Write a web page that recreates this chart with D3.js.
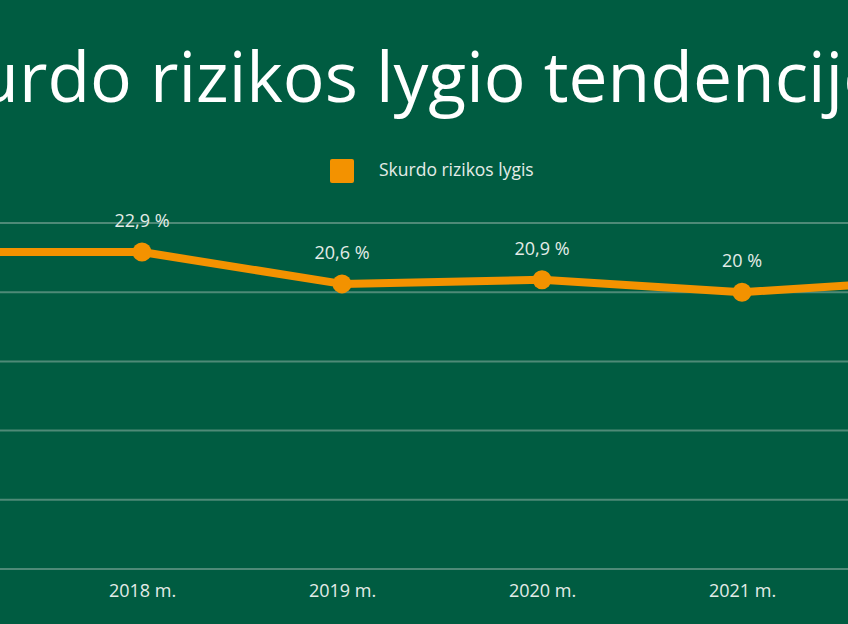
<!DOCTYPE html>
<html>
<head>
<meta charset="utf-8">
<script src="https://cdn.jsdelivr.net/npm/d3@7"></script>
<style>
  html, body { margin: 0; padding: 0; background: #005c41; overflow: hidden; }
  svg { display: block; }
</style>
</head>
<body>
<div class="graph"></div>
<script>
"use strict";

var title = "Skurdo rizikos lygio tendencijos";
var seriesName = "Skurdo rizikos lygis";
var years = ["2017 m.", "2018 m.", "2019 m.", "2020 m.", "2021 m.", "2022 m."];
var values = [22.9, 22.9, 20.6, 20.9, 20.0, 20.9];
var yTicks = [0, 5, 10, 15, 20, 25];

var width = 848;
var height = 624;
var orange = "#f39200";
var textColor = "#e4ece8";
var gridColor = "#4e8a77";
var font = "'Open Sans', sans-serif";

var svg = d3.select(".graph").append("svg")
    .attr("width", width)
    .attr("height", height);

svg.append("rect").attr("width", width).attr("height", height).attr("fill", "#005c41");

// the chart is wider than the window: first and last years fall outside
var xScale = d3.scalePoint().domain(years).range([-58, 942]);
var yScale = d3.scaleLinear().domain([0, 25]).range([569, 223]);

// title runs past both edges; fit it so "r" of "Skurdo" and the "i" before "jos" land where they should
var titleText = svg.append("text")
    .attr("x", 0)
    .attr("y", 102)
    .attr("fill", "#ffffff")
    .style("font-family", font)
    .style("font-size", "73px")
    .text(title);
var titleNode = titleText.node();
var rPos = titleNode.getStartPositionOfChar(3).x;
var iPos = titleNode.getStartPositionOfChar(title.lastIndexOf("i")).x;
var k = 789 / (iPos - rPos);
titleText.style("font-size", (73 * k) + "px")
    .attr("x", 19 - rPos * k);

// legend
svg.append("rect")
    .attr("x", 330).attr("y", 159)
    .attr("width", 24).attr("height", 24)
    .attr("rx", 2)
    .attr("fill", orange);
svg.append("text")
    .attr("x", 379).attr("y", 176)
    .attr("fill", textColor)
    .style("font-family", font)
    .style("font-size", "17.5px")
    .text(seriesName);

// grid
svg.append("g").selectAll("line").data(yTicks).enter().append("line")
    .attr("x1", 0).attr("x2", width)
    .attr("y1", function (d) { return yScale(d); })
    .attr("y2", function (d) { return yScale(d); })
    .attr("stroke", gridColor)
    .attr("stroke-width", 2);

// x axis labels
var xAxis = d3.axisBottom(xScale).tickSize(0).tickPadding(15);
var axisG = svg.append("g").attr("transform", "translate(0," + yScale(0) + ")").call(xAxis);
axisG.select(".domain").remove();
axisG.selectAll("text")
    .attr("fill", textColor)
    .style("font-family", font)
    .style("font-size", "18px");

var points = years.map(function (y, i) { return { year: y, value: values[i] }; });

var line = d3.line()
    .x(function (d) { return xScale(d.year); })
    .y(function (d) { return yScale(d.value); });

svg.append("path")
    .datum(points)
    .attr("d", line)
    .attr("fill", "none")
    .attr("stroke", orange)
    .attr("stroke-width", 8)
    .attr("stroke-linejoin", "round");

svg.selectAll("circle.pt").data(points).enter().append("circle")
    .attr("class", "pt")
    .attr("cx", function (d) { return xScale(d.year); })
    .attr("cy", function (d) { return yScale(d.value); })
    .attr("r", 9.5)
    .attr("fill", orange);

svg.selectAll("text.lbl").data(points).enter().append("text")
    .attr("class", "lbl")
    .attr("x", function (d) { return xScale(d.year); })
    .attr("y", function (d) { return yScale(d.value) - 25; })
    .attr("text-anchor", "middle")
    .attr("fill", textColor)
    .style("font-family", font)
    .style("font-size", "18px")
    .text(function (d) { return String(d.value).replace(".", ",") + " %"; });
</script>
</body>
</html>
